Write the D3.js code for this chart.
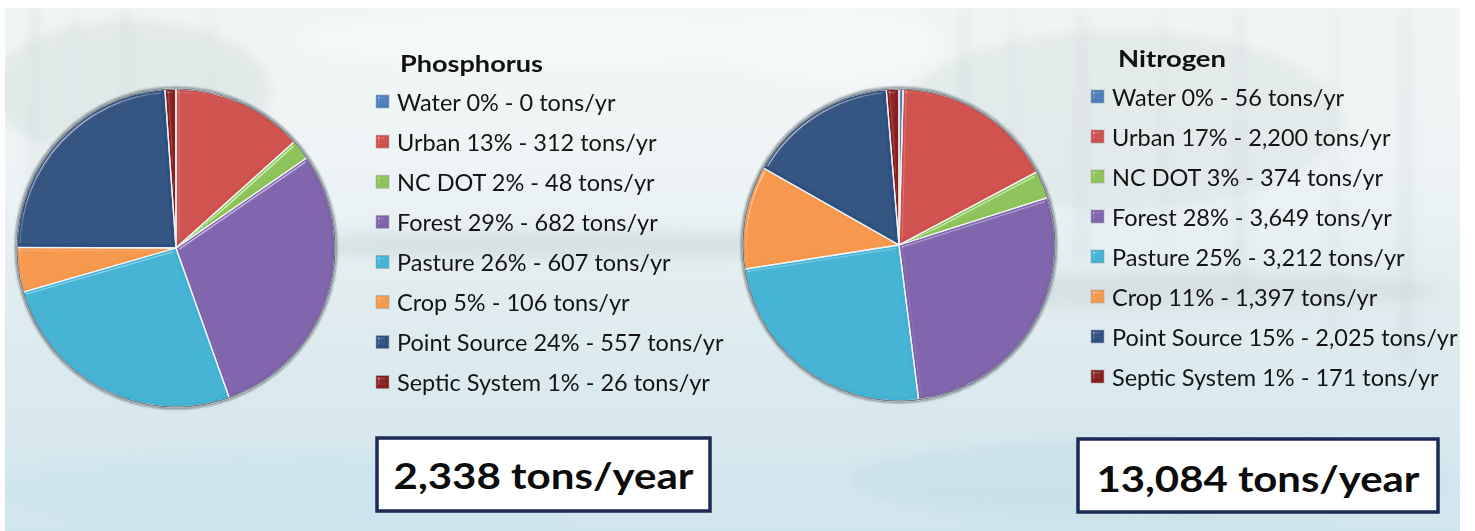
<!DOCTYPE html>
<html>
<head>
<meta charset="utf-8">
<script src="https://cdn.jsdelivr.net/npm/d3@7"></script>
<style>
  html, body { margin: 0; padding: 0; background: #ffffff; }
  svg { display: block; }
</style>
</head>
<body>
<svg id="chart" width="1475" height="531"></svg>
<script>
// Source categories shared by both nutrients
const categories = ["Water", "Urban", "NC DOT", "Forest", "Pasture", "Crop", "Point Source", "Septic System"];

// Annual loads, tons per year
const phosphorusTons = [0, 312, 48, 682, 607, 106, 557, 26];
const nitrogenTons = [56, 2200, 374, 3649, 3212, 1397, 2025, 171];

// Titles and totals shown in the boxes
const nutrientTitles = ["Phosphorus", "Nitrogen"];
const totalLabels = ["2,338 tons/year", "13,084 tons/year"];

// Slice colours per category
const sliceColors = ["#4a7ebb", "#cf4f4b", "#8cc257", "#7e63ab", "#41b2d3", "#f5974b", "#2c5180", "#8b1b1b"];

const W = 1475, H = 531;
const svg = d3.select("#chart");
const defs = svg.append("defs");

// ---------- background: pale misty lake scene ----------
const sceneX = 5, sceneY = 8, sceneW = 1460;
const bg = defs.append("linearGradient").attr("id", "bgGrad")
  .attr("x1", 0).attr("y1", 0).attr("x2", 0).attr("y2", 1);
bg.append("stop").attr("offset", "0%").attr("stop-color", "#f1f6f5");
bg.append("stop").attr("offset", "30%").attr("stop-color", "#eef4f5");
bg.append("stop").attr("offset", "55%").attr("stop-color", "#e1ecef");
bg.append("stop").attr("offset", "100%").attr("stop-color", "#d0e6ee");

const haze = defs.append("filter").attr("id", "haze")
  .attr("x", "-50%").attr("y", "-50%").attr("width", "200%").attr("height", "200%");
haze.append("feGaussianBlur").attr("stdDeviation", 6);

defs.append("clipPath").attr("id", "sceneClip")
  .append("rect").attr("x", sceneX).attr("y", sceneY).attr("width", sceneW - sceneX).attr("height", H - sceneY);

svg.append("rect").attr("x", sceneX).attr("y", sceneY)
  .attr("width", sceneW - sceneX).attr("height", H - sceneY).attr("fill", "url(#bgGrad)");

const scene = svg.append("g").attr("clip-path", "url(#sceneClip)")
  .append("g").attr("filter", "url(#haze)");

// faint tree trunks and reflections in the mist
const trunks = [
  // [x, top, bottom, width, opacity]
  [30, 8, 260, 10, 0.10], [70, 8, 200, 6, 0.08], [120, 8, 120, 14, 0.07],
  [205, 8, 150, 8, 0.07], [960, 8, 330, 9, 0.09], [1010, 8, 300, 6, 0.08],
  [1075, 8, 260, 12, 0.08], [1160, 8, 240, 7, 0.07], [1235, 8, 300, 10, 0.08],
  [1330, 8, 330, 8, 0.07], [1400, 8, 360, 12, 0.08]
];
scene.selectAll("rect.trunk").data(trunks).join("rect")
  .attr("class", "trunk")
  .attr("x", d => d[0]).attr("y", d => d[1])
  .attr("width", d => d[3]).attr("height", d => d[2] - d[1])
  .attr("fill", "#6f8486").attr("opacity", d => d[4]);

const bands = [
  // [cx, cy, rx, ry, colour, opacity]
  [130, 90, 140, 70, "#c9d6d3", 0.35],
  [1120, 120, 220, 90, "#c8d4d4", 0.30],
  [560, 245, 300, 14, "#c3d3d6", 0.45],
  [1180, 290, 260, 18, "#c9d3d6", 0.40],
  [560, 40, 260, 30, "#f7fafa", 0.6],
  [830, 45, 110, 40, "#f7fafa", 0.6],
  [320, 490, 320, 35, "#c9e4ec", 0.55],
  [1150, 480, 300, 40, "#c3dde6", 0.55]
];
scene.selectAll("ellipse").data(bands).join("ellipse")
  .attr("cx", d => d[0]).attr("cy", d => d[1])
  .attr("rx", d => d[2]).attr("ry", d => d[3])
  .attr("fill", d => d[4]).attr("opacity", d => d[5]);

// ---------- bevel filter for slices and swatches ----------
const bevel = defs.append("filter").attr("id", "bevel")
  .attr("x", "-10%").attr("y", "-10%").attr("width", "120%").attr("height", "120%");
bevel.append("feGaussianBlur").attr("in", "SourceAlpha").attr("stdDeviation", 1.8).attr("result", "blur");
const spec = bevel.append("feSpecularLighting").attr("in", "blur")
  .attr("surfaceScale", 4).attr("specularConstant", 0.9).attr("specularExponent", 32)
  .attr("lighting-color", "#ffffff").attr("result", "spec");
spec.append("feDistantLight").attr("azimuth", 225).attr("elevation", 35);
bevel.append("feComposite").attr("in", "spec").attr("in2", "SourceAlpha").attr("operator", "in").attr("result", "specOut");
bevel.append("feComposite").attr("in", "SourceGraphic").attr("in2", "specOut")
  .attr("operator", "arithmetic").attr("k1", 0).attr("k2", 1).attr("k3", 0.5).attr("k4", 0);

const rimBlur = defs.append("filter").attr("id", "rim")
  .attr("x", "-10%").attr("y", "-10%").attr("width", "120%").attr("height", "120%");
rimBlur.append("feGaussianBlur").attr("stdDeviation", 1.2);

// ---------- pies ----------
const pie = d3.pie().value(d => d.tons).sort(null);
const fmt = d3.format(",");
const fontFamily = "Lato, 'Open Sans', sans-serif";

const panels = [
  { values: phosphorusTons, cx: 176, cy: 248, r: 159,
    legendX: 376, titleX: 400, titleY: 72, titleW: 143, rowY0: 102, rowStep: 40.1,
    box: [377, 438, 333, 73], totalY: 489, totalW: 300 },
  { values: nitrogenTons, cx: 899, cy: 245, r: 156,
    legendX: 1091, titleX: 1118, titleY: 67, titleW: 108, rowY0: 97, rowStep: 40,
    box: [1078, 439, 360, 73], totalY: 492, totalW: 323 }
];

panels.forEach((p, pi) => {
  const data = categories.map((c, i) => ({ name: c, tons: p.values[i], color: sliceColors[i] }));
  const total = d3.sum(data, d => d.tons);
  const arcs = pie(data);
  const arc = d3.arc().innerRadius(0).outerRadius(p.r);

  const g = svg.append("g").attr("transform", `translate(${p.cx},${p.cy})`);

  // soft dark rim under the disc
  g.append("circle").attr("r", p.r + 1).attr("fill", "none")
    .attr("stroke", "#5f6a72").attr("stroke-width", 2.4).attr("opacity", 0.8)
    .attr("filter", "url(#rim)");

  g.selectAll("path.slice").data(arcs).join("path")
    .attr("class", "slice")
    .attr("d", arc)
    .attr("fill", d => d.data.color)
    .attr("filter", "url(#bevel)");

  // light separators between slices
  g.selectAll("path.sep").data(arcs).join("path")
    .attr("class", "sep")
    .attr("d", arc)
    .attr("fill", "none")
    .attr("stroke", "#eef2f3")
    .attr("stroke-width", 1.3)
    .attr("stroke-linejoin", "round");

  g.append("circle").attr("r", p.r).attr("fill", "none")
    .attr("stroke", "#4f5a62").attr("stroke-width", 1.1).attr("opacity", 0.85);

  // legend
  const lg = svg.append("g").attr("clip-path", "url(#sceneClip)");
  lg.append("text")
    .attr("x", p.titleX).attr("y", p.titleY)
    .attr("font-family", fontFamily)
    .attr("font-weight", 700).attr("font-size", 23.5)
    .attr("textLength", p.titleW).attr("lengthAdjust", "spacingAndGlyphs")
    .attr("fill", "#111111")
    .text(nutrientTitles[pi]);

  const rows = lg.selectAll("g.row").data(data).join("g")
    .attr("class", "row")
    .attr("transform", (d, i) => `translate(${p.legendX},${p.rowY0 + i * p.rowStep})`);

  rows.append("rect")
    .attr("x", 0).attr("y", -7).attr("width", 13).attr("height", 13)
    .attr("fill", d => d.color)
    .attr("stroke", "#a0a8ad").attr("stroke-width", 0.6)
    .attr("filter", "url(#bevel)");

  rows.append("text")
    .attr("x", 21).attr("y", 8.5)
    .attr("font-family", fontFamily)
    .attr("font-size", 23.5)
    .attr("fill", "#141414")
    .text(d => `${d.name} ${Math.round(d.tons / total * 100)}% - ${fmt(d.tons)} tons/yr`);

  // total box
  const [bx, by, bw, bh] = p.box;
  svg.append("rect")
    .attr("x", bx).attr("y", by).attr("width", bw).attr("height", bh)
    .attr("fill", "#ffffff")
    .attr("stroke", "#1d2a57").attr("stroke-width", 3.5);
  svg.append("text")
    .attr("x", bx + bw / 2).attr("y", p.totalY)
    .attr("text-anchor", "middle")
    .attr("font-family", fontFamily)
    .attr("font-weight", 700).attr("font-size", 36)
    .attr("textLength", p.totalW).attr("lengthAdjust", "spacingAndGlyphs")
    .attr("fill", "#0c0c0c")
    .text(totalLabels[pi]);
});
</script>
</body>
</html>
